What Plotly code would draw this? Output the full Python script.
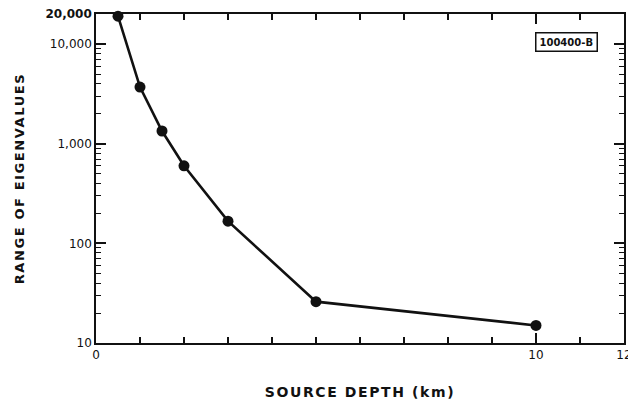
import plotly.graph_objects as go

# Data
depth_km = [0.5, 1.0, 1.5, 2.0, 3.0, 5.0, 10.0]
eig_range = [19000, 3700, 1340, 600, 167, 26, 15]

x_tick_vals = [0, 10, 12]
x_tick_text = ["0", "10", "12"]
x_minor_vals = list(range(0, 13))

y_tick_vals = [10, 100, 1000, 10000, 20000]
y_tick_text = ["10", "100", "1,000", "10,000", "<b>20,000</b>"]
y_minor_vals = [m * d for d in [10, 100, 1000] for m in range(2, 10)]

ink = "#111111"
font = "DejaVu Sans"
xr = [0, 12]
yr = [1, 4.30103]

fig = go.Figure()
# transparent copy on the overlay axes that carry the minor ticks
fig.add_trace(go.Scatter(
    x=depth_km, y=eig_range, xaxis="x2", yaxis="y2", mode="markers",
    marker=dict(opacity=0), hoverinfo="skip", showlegend=False,
))
fig.add_trace(go.Scatter(
    x=depth_km, y=eig_range, mode="lines+markers",
    line=dict(color=ink, width=2.6),
    marker=dict(color=ink, size=11),
    cliponaxis=False, showlegend=False,
))

fig.update_layout(
    width=628, height=404,
    margin=dict(l=96, r=4, t=14, b=61),
    paper_bgcolor="white", plot_bgcolor="white",
    font=dict(family=font, color=ink, size=12),
    xaxis=dict(
        range=xr, showgrid=False, zeroline=False,
        showline=True, linecolor=ink, linewidth=1.6, mirror="ticks",
        ticks="inside", ticklen=10, tickwidth=1.6, tickcolor=ink,
        tickvals=x_tick_vals, ticktext=x_tick_text,
        tickfont=dict(size=12, family=font), ticklabeloverflow="allow",
        title=dict(text="<b>SOURCE DEPTH (km)</b>", font=dict(size=14, family=font), standoff=26),
        automargin=False,
    ),
    xaxis2=dict(
        range=xr, overlaying="x", anchor="y2", side="bottom", showgrid=False, zeroline=False,
        showline=False, mirror="ticks", ticks="inside", ticklen=6, tickwidth=1.5,
        tickcolor=ink, tickmode="array", tickvals=x_minor_vals, showticklabels=False,
        automargin=False,
    ),
    yaxis=dict(
        type="log", range=yr, showgrid=False, zeroline=False,
        showline=True, linecolor=ink, linewidth=1.6, mirror="ticks",
        ticks="inside", ticklen=10, tickwidth=1.6, tickcolor=ink,
        tickvals=y_tick_vals, ticktext=y_tick_text,
        tickfont=dict(size=12, family=font), ticklabeloverflow="allow",
        title=dict(text="<b>RANGE OF EIGENVALUES</b>", font=dict(size=13, family=font), standoff=18),
        automargin=False,
    ),
    yaxis2=dict(
        type="log", range=yr, overlaying="y", anchor="x2", side="left", showgrid=False, zeroline=False,
        showline=False, mirror="ticks", ticks="inside", ticklen=5, tickwidth=1.4,
        tickcolor=ink, tickmode="array", tickvals=y_minor_vals, showticklabels=False,
        automargin=False,
    ),
    annotations=[dict(
        text="<b>100400-B</b>", xref="paper", yref="paper",
        x=0.892, y=0.915, xanchor="center", yanchor="middle", showarrow=False,
        font=dict(size=10, family=font, color=ink),
        bordercolor=ink, borderwidth=1.5, borderpad=3,
    )],
)

post = """
var s = document.createElement('style');
s.textContent = '.g-xtitle text, .g-ytitle text { letter-spacing: 1.6px; }';
document.head.appendChild(s);
"""
fig.write_html("out.html", post_script=post)
